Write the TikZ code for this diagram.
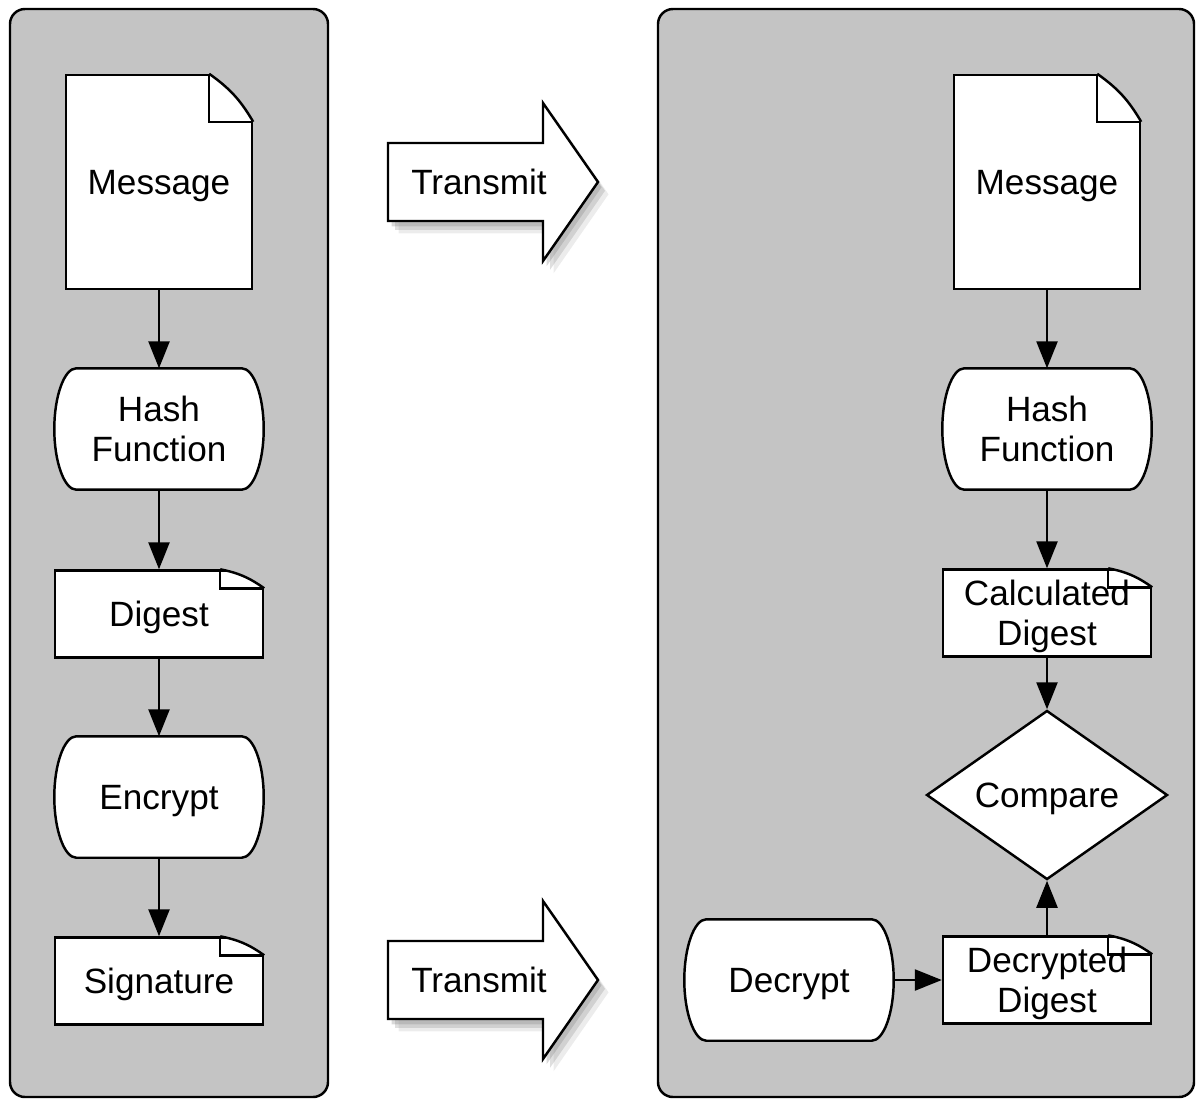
\documentclass[tikz,border=0pt]{standalone}
\usepackage{fontspec}
\setmainfont{Liberation Sans}
\usetikzlibrary{arrows.meta,shapes.geometric,shadows,calc,backgrounds}
\definecolor{panelgray}{RGB}{196,196,196}

\begin{document}
\begin{tikzpicture}[x=0.02cm, y=-0.02cm, line width=1.4pt,
    >={Triangle[length=0.54cm,width=0.42cm]},
    every node/.style={font=\fontsize{20}{23}\selectfont, align=center, text depth=0pt},
    panel/.style={draw, line width=1.4pt, fill=panelgray, rounded corners=0.3cm},
    doc/.style={draw, fill=white, minimum width=4.16cm, minimum height=1.74cm, inner sep=0pt},
    bigdoc/.style={doc, minimum width=3.72cm, minimum height=4.28cm},
    proc/.style={minimum width=4.14cm, minimum height=2.38cm, inner sep=0pt},
    procline/.style={draw, line width=1.4pt, fill=white},
    decide/.style={draw, fill=white, diamond, minimum width=4.82cm, minimum height=3.16cm, inner sep=0pt},
    transmit/.style={draw, fill=white, line join=miter,
      drop shadow={shadow xshift=6pt, shadow yshift=-7pt, opacity=0.15},
      drop shadow={shadow xshift=4pt, shadow yshift=-5pt, opacity=0.25},
      drop shadow={shadow xshift=2pt, shadow yshift=-3pt, opacity=0.3}}]
    \useasboundingbox (0,0) rectangle (1196,1099);
    % sender and receiver
    \begin{scope}[on background layer]
        \draw[panel] (10,9) rectangle (328,1097);
        \draw[panel] (658,9) rectangle (1194,1097);
    \end{scope}

    \node[bigdoc] (msgL) at (159,182) {Message};
    \node[proc] (hashL) at (159,429) {Hash\\Function};
    \node[doc] (dgL) at (159,614) {Digest};
    \node[proc] (encL) at (159,797) {Encrypt};
    \node[doc] (sigL) at (159,981) {Signature};

    \node[bigdoc] (msgR) at (1047,182) {Message};
    \node[proc] (hashR) at (1047,429) {Hash\\Function};
    \node[doc] (cdgR) at (1047,613) {Calculated\\Digest};
    \node[decide] (cmpR) at (1047,795) {Compare};
    \node[proc] (decR) at (789,980) {Decrypt};
    \node[doc] (ddgR) at (1047,980) {Decrypted\\Digest};

    % process outlines
    \begin{scope}[on background layer]
        \foreach \n in {hashL, encL, hashR, decR} {
            \path[procline] ($(\n.north west)+(22,0)$) -- ($(\n.north east)+(-22,0)$)
                .. controls ($(\n.north east)+(-10,0)$) and ($(\n.east)+(0,-33)$) .. (\n.east)
                .. controls ($(\n.east)+(0,33)$) and ($(\n.south east)+(-10,0)$) .. ($(\n.south east)+(-22,0)$)
                -- ($(\n.south west)+(22,0)$)
                .. controls ($(\n.south west)+(10,0)$) and ($(\n.west)+(0,33)$) .. (\n.west)
                .. controls ($(\n.west)+(0,-33)$) and ($(\n.north west)+(10,0)$) .. ($(\n.north west)+(22,0)$) -- cycle;
        }
    \end{scope}

    % folded corners
    \foreach \n/\fh in {msgL/48, dgL/19, sigL/19, msgR/48, cdgR/19, ddgR/19} {
        \fill[panelgray] ($(\n.north east)+(-44,0)$) to[bend left=12] ($(\n.north east)+(0,\fh)$)
            -- ($(\n.north east)+(3,\fh)$) -- ($(\n.north east)+(3,-3)$) -- ($(\n.north east)+(-44,-3)$) -- cycle;
        \draw ($(\n.north east)+(-44,0)$) -- ($(\n.north east)+(-44,\fh)$) -- ($(\n.north east)+(0,\fh)$);
        \draw ($(\n.north east)+(-44,0)$) to[bend left=12] ($(\n.north east)+(0,\fh)$);
    }

    \draw[->] (msgL) -- (hashL);
    \draw[->] (hashL) -- (dgL);
    \draw[->] (dgL) -- (encL);
    \draw[->] (encL) -- (sigL);
    \draw[->] (msgR) -- (hashR);
    \draw[->] (hashR) -- (cdgR);
    \draw[->] (cdgR) -- (cmpR);
    \draw[->] (decR) -- (ddgR);
    \draw[->] (ddgR) -- (cmpR);

    % transmit arrows
    \foreach \y/\n in {182/txTop, 980/txBot} {
        \draw[transmit] (388,\y-39) -- (543,\y-39) -- (543,\y-79) -- (598,\y)
            -- (543,\y+79) -- (543,\y+39) -- (388,\y+39) -- cycle;
        \node (\n) at (479,\y) {Transmit};
    }
\end{tikzpicture}
\end{document}
